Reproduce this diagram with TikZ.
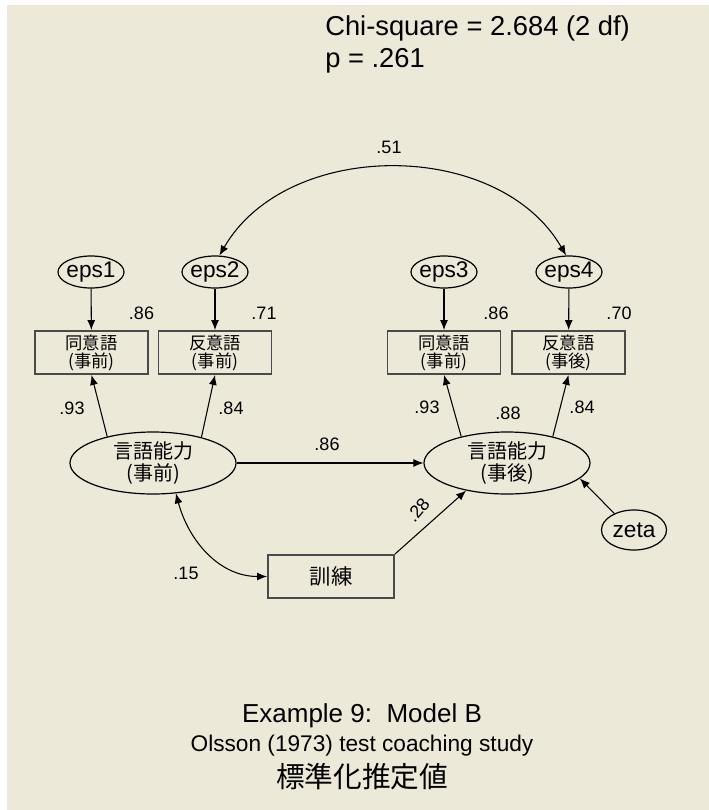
\documentclass[tikz,border=0pt]{standalone}
\usepackage{fontspec}
\setmainfont{Liberation Sans}
\newfontfamily\jpfont{Noto Sans CJK JP}
\usetikzlibrary{
  arrows.meta,      % Latex 箭头
  shapes.geometric, % ellipse
  positioning
}
\definecolor{xpbg}{HTML}{ECE9D8}
\definecolor{boxline}{HTML}{4A4A4A}
\tikzset{
  obsbox/.style={draw=boxline, line width=1.4pt, minimum width=84.75pt, minimum height=32.25pt,
    inner sep=0pt, align=center, font=\jpfont\fontsize{13}{13.5}\selectfont},
  errvar/.style={ellipse, draw, line width=0.9pt, minimum width=49.5pt, minimum height=24pt,
    inner xsep=-4pt, inner ysep=-2pt, font=\fontsize{17}{18}\selectfont},
  latvar/.style={ellipse, draw, line width=0.9pt, minimum width=124.5pt, minimum height=46.5pt,
    inner sep=0pt, align=center, font=\jpfont\fontsize{15}{16.5}\selectfont},
  coef/.style={inner sep=0pt, font=\fontsize{13.5}{14}\selectfont},
  regarrow/.style={->, line width=0.8pt}
}

\begin{document}
\begin{tikzpicture}[x=0.75pt, y=-0.75pt, >={Latex[length=7.5pt,width=6pt]}]
    % 背景
    \useasboundingbox (0,0) rectangle (709,810);
    \fill[white] (0,0) rectangle (709,810);
    \fill[xpbg] (7,5) rectangle (709,810);

    % 適合度
    \node[anchor=base west, inner sep=0pt, font=\fontsize{20.5}{22}\selectfont] (chisq) at (325,35) {Chi-square = 2.684 (2 df)};
    \node[anchor=base west, inner sep=0pt, font=\fontsize{20.5}{22}\selectfont] (pval) at (325,67) {p = .261};

    % 誤差変数
    \node[errvar] (eps1) at (91,272) {eps1};
    \node[errvar] (eps2) at (215,272) {eps2};
    \node[errvar] (eps3) at (444,272) {eps3};
    \node[errvar] (eps4) at (569,272) {eps4};

    % 観測変数
    \node[obsbox] (syn1) at (91.5,352.5) {同意語\\(事前)};
    \node[obsbox] (ant1) at (215,352.5) {反意語\\(事前)};
    \node[obsbox] (syn2) at (444,352.5) {同意語\\(事前)};
    \node[obsbox] (ant2) at (568.5,352.5) {反意語\\(事後)};

    % 潜在変数
    \node[latvar] (pre) at (153,463) {言語能力\\(事前)};
    \node[latvar] (post) at (507,463) {言語能力\\(事後)};
    \node[obsbox, minimum width=94.5pt, font=\jpfont\fontsize{16}{17}\selectfont] (train) at (331,576.5) {訓練};
    \node[errvar, minimum width=48.75pt, minimum height=30pt, inner sep=0pt] (zeta) at (634,530) {zeta};

    % パス
    \foreach \e/\v in {eps1/syn1, eps2/ant1, eps3/syn2, eps4/ant2}
      \draw[regarrow] (\e) -- (\v);
    \draw[regarrow] (pre.150) -- (syn1.south);
    \draw[regarrow] (pre.28) -- (ant1.south);
    \draw[regarrow] (post.150) -- (syn2.south);
    \draw[regarrow] (post.30) -- (ant2.south);
    \draw[regarrow] (pre.east) -- (post.west);
    \draw[regarrow] (train.north east) -- (post.214);
    \draw[regarrow] (zeta.140) -- (post.-12);

    % 共分散
    \draw[<->, line width=0.8pt] (eps2.75) to[out=60, in=120] (eps4.100);
    \draw[<->, line width=0.8pt] (pre.-53) to[out=-75, in=180] (train.west);

    % 係数
    \node[coef] (c51) at (389,147) {.51};
    \node[coef] (r1) at (141.5,313) {.86};
    \node[coef] (r2) at (264,313) {.71};
    \node[coef] (r3) at (496,313) {.86};
    \node[coef] (r4) at (619,313) {.70};
    \node[coef] (l1) at (72,408) {.93};
    \node[coef] (l2) at (231,408) {.84};
    \node[coef] (l3) at (427,407) {.93};
    \node[coef] (r5) at (508,413) {.88};
    \node[coef] (l4) at (582,407) {.84};
    \node[coef] (b1) at (327,444) {.86};
    \node[coef] (c15) at (186,573) {.15};
    \node[coef, rotate=50] (b2) at (418,510) {.28};

    % タイトル
    \node[anchor=base, inner sep=0pt, font=\fontsize{19.5}{21}\selectfont] (title1) at (362,722) {Example 9:\ \ Model B};
    \node[anchor=base, inner sep=0pt, font=\fontsize{17}{18}\selectfont] (title2) at (362,751) {Olsson (1973) test coaching study};
    \node[anchor=base, inner sep=0pt, font=\jpfont\fontsize{21.5}{22}\selectfont] (title3) at (362,787) {標準化推定値};
\end{tikzpicture}
\end{document}
